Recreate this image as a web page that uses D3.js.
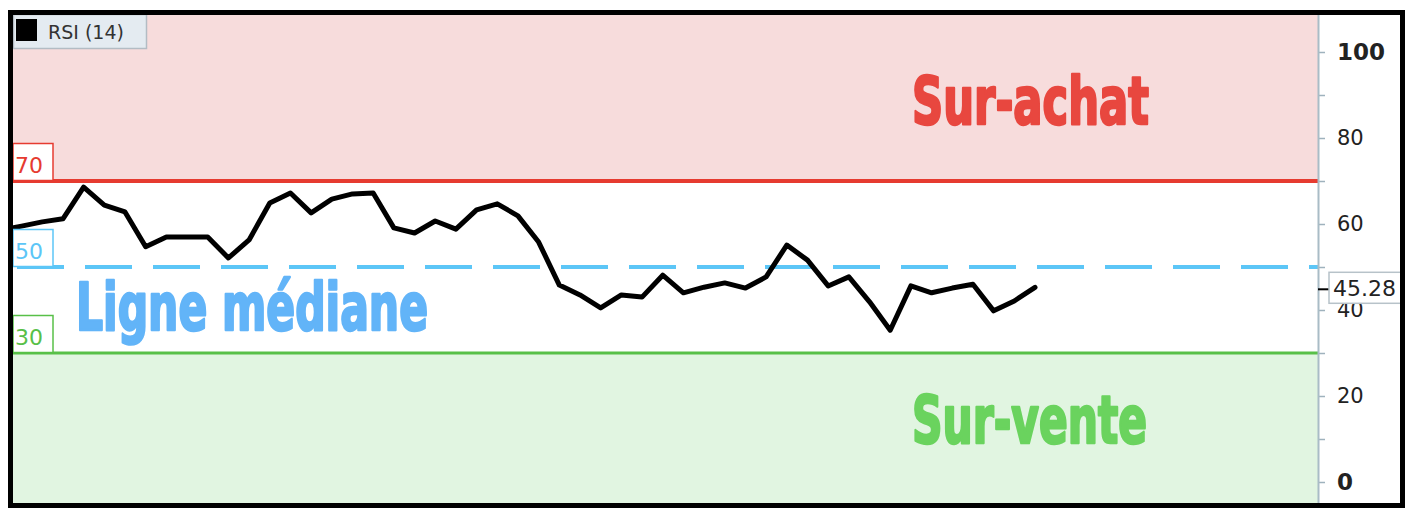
<!DOCTYPE html>
<html><head><meta charset="utf-8">
<script src="https://cdn.jsdelivr.net/npm/d3@7"></script>
<style>html,body{margin:0;padding:0;background:#fff;}svg{display:block;}</style>
</head><body>
<script>
// ---- data ----
const rsiValues = [58.6, 59.5, 60.5, 61.2, 68.6, 64.4, 62.8, 54.7, 57.0, 57.0,
  57.0, 52.1, 56.3, 64.9, 67.2, 62.6, 65.8, 67.0, 67.2, 59.1,
  57.9, 60.7, 58.8, 63.3, 64.7, 61.9, 55.8, 45.8, 43.5, 40.5,
  43.5, 43.0, 48.1, 44.0, 45.3, 46.3, 45.1, 47.7, 55.1, 51.6,
  45.6, 47.7, 41.9, 35.3, 45.6, 44.0, 45.1, 46.0, 39.8, 42.1, 45.28];
const levels = [70, 50, 30];
const levelLabels = ["70", "50", "30"];
const yTickValues = [0, 10, 20, 30, 40, 50, 60, 70, 80, 90, 100];
const yLabelValues = [0, 20, 40, 60, 80, 100];
const zoneLabels = ["Sur-achat", "Ligne médiane", "Sur-vente"];
const legendLabel = "RSI (14)";
const lastValueLabel = "45.28";

// ---- layout ----
const W = 1418, H = 524;
const plot = {left: 13, right: 1318, top: 15, bottom: 503};
const svg = d3.select("body").append("svg").attr("width", W).attr("height", H);
svg.append("rect").attr("width", W).attr("height", H).attr("fill", "#fff");

const y = d3.scaleLinear().domain([0, 100]).range([482, 52]);
const x = d3.scaleLinear().domain([0, rsiValues.length - 1]).range([0.9, 1035]);

const red = "#e63b30", green = "#58c048", blue = "#5cc6f7";

svg.append("clipPath").attr("id", "clip").append("rect")
  .attr("x", plot.left).attr("y", plot.top)
  .attr("width", plot.right - plot.left).attr("height", plot.bottom - plot.top);
const g = svg.append("g").attr("clip-path", "url(#clip)");

// zones
g.append("rect").attr("x", plot.left).attr("y", plot.top)
  .attr("width", plot.right - plot.left).attr("height", y(70) - plot.top).attr("fill", "#f7dcdc");
g.append("rect").attr("x", plot.left).attr("y", y(30))
  .attr("width", plot.right - plot.left).attr("height", plot.bottom - y(30)).attr("fill", "#e1f5e1");

// level lines
g.append("line").attr("x1", plot.left).attr("x2", plot.right).attr("y1", y(70)).attr("y2", y(70))
  .attr("stroke", red).attr("stroke-width", 4);
g.append("line").attr("x1", plot.left).attr("x2", plot.right).attr("y1", y(30)).attr("y2", y(30))
  .attr("stroke", green).attr("stroke-width", 3);
g.append("line").attr("x1", plot.left).attr("x2", plot.right).attr("y1", y(50)).attr("y2", y(50))
  .attr("stroke", blue).attr("stroke-width", 4).attr("stroke-dasharray", "47,21").attr("stroke-dashoffset", -4);

// big zone labels
const bigFont = "'Liberation Sans Narrow','DejaVu Sans Condensed','Arial Narrow',sans-serif";
const bigSpecs = [
  {t: zoneLabels[0], x: 912, y: 124, len: 237, c: "#e8473f"},
  {t: zoneLabels[1], x: 76, y: 330, len: 352, c: "#62b4f8"},
  {t: zoneLabels[2], x: 912, y: 443, len: 235, c: "#6ad35e"}
];
svg.selectAll("text.big").data(bigSpecs).enter().append("text")
  .attr("class", "big").attr("x", d => d.x).attr("y", d => d.y)
  .attr("textLength", d => d.len).attr("lengthAdjust", "spacingAndGlyphs")
  .attr("font-family", bigFont).attr("font-weight", "bold").attr("font-size", 65)
  .attr("fill", d => d.c).attr("stroke", d => d.c).attr("stroke-width", 2.5)
  .attr("stroke-linejoin", "round")
  .text(d => d.t);

// RSI line
const line = d3.line().x((d, i) => x(i)).y(d => y(d));
g.append("path").datum(rsiValues).attr("d", line)
  .attr("fill", "none").attr("stroke", "#000").attr("stroke-width", 5)
  .attr("stroke-linejoin", "round").attr("stroke-linecap", "round");

// level label boxes
const levelColors = [red, "#5cc6f7", green];
const smallFont = "'DejaVu Sans',sans-serif";
levels.forEach((v, i) => {
  const yy = y(v);
  svg.append("rect").attr("x", plot.left).attr("y", yy - 37.5).attr("width", 40).attr("height", 37)
    .attr("fill", "#fff").attr("stroke", levelColors[i]).attr("stroke-width", 1.5);
  svg.append("text").attr("x", plot.left + 2).attr("y", yy - 8)
    .attr("font-family", smallFont).attr("font-size", 22).attr("fill", levelColors[i])
    .text(levelLabels[i]);
});

// legend
svg.append("rect").attr("x", 13.5).attr("y", 14.5).attr("width", 133).attr("height", 34)
  .attr("fill", "#e4ebf1").attr("stroke", "#b3bcc4").attr("stroke-width", 1.5);
svg.append("rect").attr("x", 16).attr("y", 19).attr("width", 21).attr("height", 22).attr("fill", "#000");
svg.append("text").attr("x", 48).attr("y", 39).attr("font-family", smallFont).attr("font-size", 19)
  .attr("fill", "#333").text(legendLabel);

// right axis
const axis = d3.axisRight(y).tickValues(yTickValues).tickSize(7).tickPadding(12)
  .tickFormat(d => yLabelValues.includes(d) ? d3.format("d")(d) : "");
const ax = svg.append("g").attr("transform", `translate(${plot.right},0)`).call(axis);
ax.select(".domain").remove();
ax.selectAll(".tick line").attr("stroke", "#9fb2bd").attr("stroke-width", 1.5);
ax.selectAll(".tick text").attr("font-family", smallFont).attr("fill", "#222")
  .attr("font-weight", d => (d === 0 || d === 100) ? "bold" : "normal")
  .attr("font-size", d => (d === 0 || d === 100) ? 23 : 21);
svg.append("line").attr("x1", plot.right + 0.5).attr("x2", plot.right + 0.5)
  .attr("y1", plot.top).attr("y2", plot.bottom).attr("stroke", "#a9bcc6").attr("stroke-width", 2);

// last value marker (clipped by the frame on its right side)
const lv = rsiValues[rsiValues.length - 1];
svg.append("line").attr("x1", plot.right).attr("x2", plot.right + 11).attr("y1", y(lv) + 2).attr("y2", y(lv) + 2)
  .attr("stroke", "#000").attr("stroke-width", 2);
svg.append("rect").attr("x", plot.right + 11).attr("y", y(lv) - 15).attr("width", 74).attr("height", 31)
  .attr("fill", "#fff").attr("stroke", "#b7c2c9").attr("stroke-width", 1.5);
svg.append("text").attr("x", plot.right + 15).attr("y", y(lv) + 9)
  .attr("font-family", smallFont).attr("font-size", 22).attr("fill", "#222").text(lastValueLabel);

// outer border and white margin outside it
svg.append("rect").attr("x", 1403).attr("y", 0).attr("width", W - 1403).attr("height", H).attr("fill", "#fff");
svg.append("rect").attr("x", 10.5).attr("y", 12.5).attr("width", 1392).attr("height", 493)
  .attr("fill", "none").attr("stroke", "#000").attr("stroke-width", 5);
</script>
</body></html>
